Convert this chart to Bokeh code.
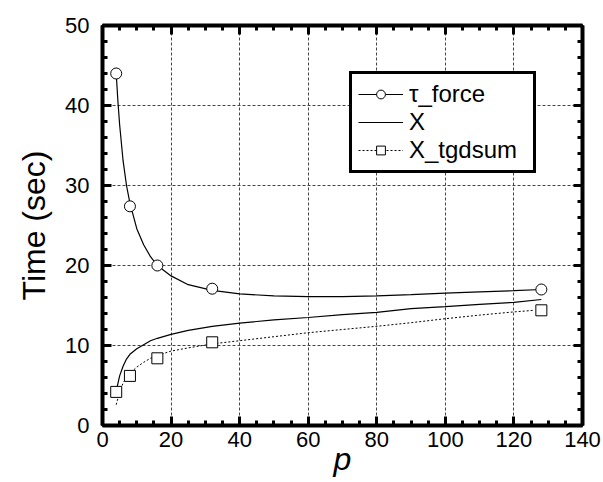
from bokeh.plotting import figure
from bokeh.models import Range1d, LinearAxis, SingleIntervalTicker, Legend, LegendItem
from bokeh.embed import file_html
from bokeh.resources import INLINE

# ---- data ----
tau_p = [4, 8, 16, 32, 128]
tau_y = [44.0, 27.4, 20.0, 17.1, 17.0]

tgd_p = [4, 8, 16, 32, 128]
tgd_y = [4.2, 6.2, 8.4, 10.4, 14.4]

tau_curve_p = [4, 4.5, 5, 6, 7, 8, 10, 12, 14, 16, 20, 25, 32, 40, 50, 60, 70, 80, 90, 100, 110, 120, 128]
tau_curve_y = [44.0, 40.5, 37.6, 33.1, 30.0, 27.8, 24.6, 22.6, 21.1, 20.0, 18.7, 17.6, 16.9, 16.45, 16.2, 16.1, 16.1, 16.2, 16.35, 16.55, 16.7, 16.85, 17.0]

x_curve_p = [4, 5, 6, 7, 8, 10, 12, 14, 16, 20, 25, 32, 40, 50, 60, 70, 80, 90, 100, 110, 120, 128]
x_curve_y = [4.3, 6.2, 7.4, 8.3, 8.9, 9.6, 10.1, 10.6, 10.9, 11.4, 11.9, 12.4, 12.8, 13.2, 13.5, 13.85, 14.15, 14.6, 14.85, 15.15, 15.4, 15.75]

tgd_curve_p = [4, 5, 6, 7, 8, 10, 12, 14, 16, 20, 25, 32, 40, 50, 60, 70, 80, 90, 100, 110, 120, 126]
tgd_curve_y = [2.6, 4.2, 5.3, 6.0, 6.5, 7.3, 7.9, 8.4, 8.75, 9.3, 9.7, 10.2, 10.6, 11.1, 11.6, 12.0, 12.4, 12.85, 13.35, 13.8, 14.2, 14.4]

x_title = "p"
y_title = "Time (sec)"
series_names = ["\u03c4_force", "X", "X_tgdsum"]

FONT = "Liberation Sans"

p = figure(width=603, height=482, output_backend="svg", toolbar_location=None,
           x_range=Range1d(0, 140), y_range=Range1d(0, 50),
           min_border_left=102, min_border_right=21, min_border_top=25, min_border_bottom=57,
           x_axis_label=x_title, y_axis_label=y_title,
           background_fill_color="white", border_fill_color="white")
p.outline_line_color = None

xt = SingleIntervalTicker(interval=20, num_minor_ticks=4)
yt = SingleIntervalTicker(interval=10, num_minor_ticks=5)

top = LinearAxis()
right = LinearAxis()
p.add_layout(top, "above")
p.add_layout(right, "right")

def style(ax, ticker, labels):
    ax.ticker = ticker
    ax.axis_line_color = "black"
    ax.axis_line_width = 4
    ax.major_tick_line_color = "black"
    ax.major_tick_line_width = 3
    ax.minor_tick_line_color = "black"
    ax.minor_tick_line_width = 3
    ax.major_tick_in = 9
    ax.major_tick_out = 0
    ax.minor_tick_in = 5
    ax.minor_tick_out = 0
    ax.major_label_text_font = FONT
    ax.axis_label_text_font = FONT
    ax.axis_label_text_color = "black"
    if labels:
        ax.major_label_text_color = "black"
        ax.major_label_text_font_size = "22px"
        ax.axis_label_text_font_size = "32px"
    else:
        ax.major_label_text_color = None
        ax.major_label_text_font_size = "1px"
        ax.major_label_standoff = 0

bx = p.below[0]
ly = p.left[0]
style(bx, xt, True)
style(ly, yt, True)
style(top, xt, False)
style(right, yt, False)

bx.major_label_standoff = 6
bx.axis_label_standoff = -9
bx.axis_label_text_font_style = "italic"
ly.major_label_standoff = 13
ly.axis_label_standoff = 10
ly.axis_label_text_font_style = "normal"

for g, t in ((p.xgrid[0], xt), (p.ygrid[0], yt)):
    g.ticker = t
    g.grid_line_color = "#444444"
    g.grid_line_width = 1
    g.grid_line_dash = "3 2"

r_tau_line = p.line(tau_curve_p, tau_curve_y, line_color="black", line_width=1.2)
r_x_line = p.line(x_curve_p, x_curve_y, line_color="black", line_width=1.2)
r_tgd_line = p.line(tgd_curve_p, tgd_curve_y, line_color="black", line_width=1, line_dash="2 2")
r_tau_pts = p.scatter(tau_p, tau_y, marker="circle", size=11, fill_color="white",
                      line_color="black", line_width=1)
r_tgd_pts = p.scatter(tgd_p, tgd_y, marker="square", size=11, fill_color="white",
                      line_color="black", line_width=1)

legend = Legend(items=[
    LegendItem(label=series_names[0], renderers=[r_tau_line, r_tau_pts]),
    LegendItem(label=series_names[1], renderers=[r_x_line]),
    LegendItem(label=series_names[2], renderers=[r_tgd_line, r_tgd_pts]),
], location=(247, 252))
legend.border_line_color = "black"
legend.border_line_alpha = 1.0
legend.border_line_width = 3
legend.background_fill_color = "white"
legend.background_fill_alpha = 1
legend.label_text_font = FONT
legend.label_text_font_size = "24px"
legend.label_text_color = "black"
legend.glyph_width = 45
legend.glyph_height = 22
legend.label_height = 22
legend.label_width = 118
legend.label_standoff = 6
legend.padding = 6
legend.spacing = -2
legend.margin = 0
p.add_layout(legend)

open("out.html", "w").write(file_html(p, INLINE))
